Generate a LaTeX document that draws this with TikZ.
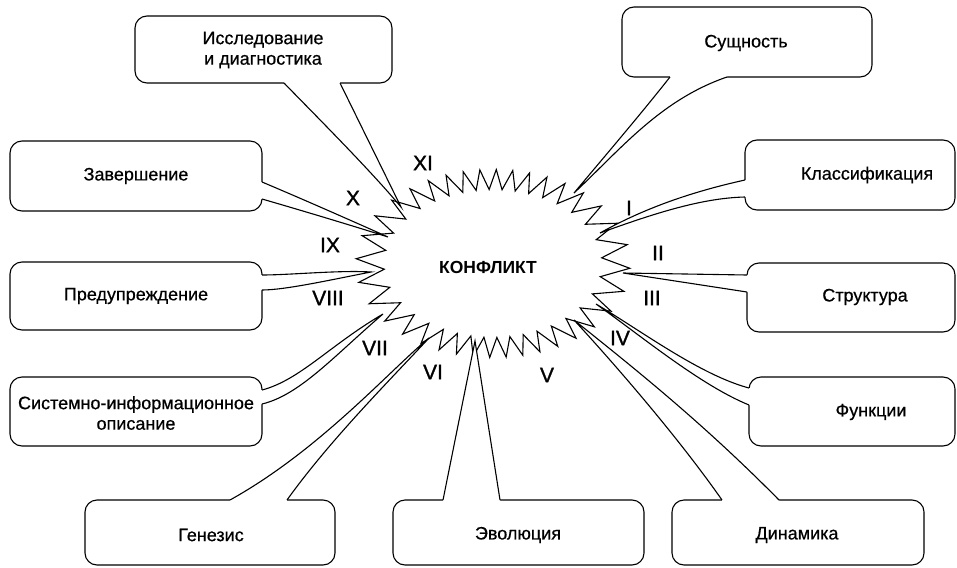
\documentclass[tikz,border=0pt]{standalone}
\usepackage{fontspec}
\setmainfont{Liberation Sans}
\newfontfamily\medsans{Liberation Sans}[FakeBold=0.6]
\newfontfamily\numsans{Liberation Sans}[FakeBold=1.2]
\usetikzlibrary{calc}
\newcommand\mytail[4]{%
  \fill[white] ($(#1)+(#3)$) -- #4 -- ($(#2)+(#3)$) -- cycle;
  \draw[co] #4;}
\begin{document}
\begin{tikzpicture}[x=1pt,y=-1pt,
  co/.style={draw=black,line width=1.1pt,line join=miter},
  boxn/.style={draw=black,line width=1.1pt,rounded corners=12pt,inner sep=0pt,outer sep=0pt},
  lbl/.style={font=\medsans\fontsize{18}{20.5}\selectfont,align=center,inner sep=0pt},
  num/.style={font=\numsans\fontsize{21}{23}\selectfont,inner sep=0pt},
  burst/.style={draw=black,line width=1.1pt,line join=miter}]
\useasboundingbox (0,0) rectangle (957,567);
% starburst
\foreach \i in {0,...,71}{
  \pgfmathsetmacro{\ang}{5*\i+2}
  \ifodd\i \def\A{10.9}\def\B{7.4}\else \def\A{13.7}\def\B{9.4}\fi
  \pgfmathsetmacro{\R}{10*\A*\B/sqrt((\B*cos(\ang))^2+(\A*sin(\ang))^2)}
  \coordinate (p\i) at ({493+\R*cos(\ang)},{263.5+\R*sin(\ang)});
}
\draw[burst] (p0) \foreach \i in {1,...,71}{ -- (p\i)} -- cycle;
\node[font=\bfseries\fontsize{17.5}{20}\selectfont,inner sep=0pt] (konf) at (488,267) {КОНФЛИКТ};

% tips
\coordinate (tIssl) at (401,207);
\coordinate (tZav) at (388,237);
\coordinate (tPred) at (371,272);
\coordinate (tSys) at (383,314);
\coordinate (tGen) at (429,338);
\coordinate (tEvo) at (475,341);
\coordinate (tDin) at (574,320);
\coordinate (tFun) at (596,304);
\coordinate (tStr) at (623,273);
\coordinate (tKla) at (600,233);
\coordinate (tSush) at (574,193);

% boxes
\node[boxn,minimum width=257pt,minimum height=67pt] (issl) at (263.5,49.5) {};
\node[boxn,minimum width=250pt,minimum height=70pt] (sush) at (747,42) {};
\node[boxn,minimum width=252pt,minimum height=70pt] (zav) at (136,176) {};
\node[boxn,minimum width=210pt,minimum height=70pt] (kla) at (850,175) {};
\node[boxn,minimum width=252pt,minimum height=68pt] (pred) at (136,296) {};
\node[boxn,minimum width=208pt,minimum height=69pt] (str) at (851,297.5) {};
\node[boxn,minimum width=252pt,minimum height=69pt] (sys) at (136,411.5) {};
\node[boxn,minimum width=206pt,minimum height=69pt] (fun) at (852,411.5) {};
\node[boxn,minimum width=250pt,minimum height=65pt] (gen) at (210,532.5) {};
\node[boxn,minimum width=251pt,minimum height=65pt] (evo) at (518.5,532.5) {};
\node[boxn,minimum width=252pt,minimum height=65pt] (din) at (798,532.5) {};

% base coordinates
\coordinate (isslA) at (284,83);  \coordinate (isslB) at (340,83);
\coordinate (sushA) at (670,77);  \coordinate (sushB) at (727,77);
\coordinate (zavA) at (262,182);  \coordinate (zavB) at (262,199);
\coordinate (klaA) at (745,180);  \coordinate (klaB) at (745,197);
\coordinate (predA) at (262,275); \coordinate (predB) at (262,290);
\coordinate (strA) at (747,275);  \coordinate (strB) at (747,292);
\coordinate (sysA) at (262,390);  \coordinate (sysB) at (262,404);
\coordinate (funA) at (749,388);  \coordinate (funB) at (749,405);
\coordinate (genA) at (230,500);  \coordinate (genB) at (287,500);
\coordinate (evoA) at (443,500);  \coordinate (evoB) at (500,500);
\coordinate (dinA) at (722,500);  \coordinate (dinB) at (779,500);

% tails
\mytail{isslA}{isslB}{0,-2}{(isslA) .. controls (320,120) and (370,170) .. (tIssl) -- (isslB)}
\mytail{sushA}{sushB}{0,-2}{(sushA) .. controls (640,115) and (610,150) .. (tSush) .. controls (620,150) and (660,100) .. (sushB)}
\mytail{zavA}{zavB}{-2,0}{(zavA) .. controls (300,198) and (350,220) .. (tZav) .. controls (350,225) and (300,210) .. (zavB)}
\mytail{klaA}{klaB}{2,0}{(klaA) .. controls (700,190) and (650,205) .. (tKla) .. controls (650,215) and (700,198) .. (klaB)}
\mytail{predA}{predB}{-2,0}{(predA) .. controls (290,275) and (340,270) .. (tPred) .. controls (330,280) and (285,290) .. (predB)}
\mytail{strA}{strB}{2,0}{(strA) -- (tStr) -- (strB)}
\mytail{sysA}{sysB}{-2,0}{(sysA) .. controls (300,380) and (330,345) .. (tSys) .. controls (335,355) and (300,395) .. (sysB)}
\mytail{funA}{funB}{2,0}{(funA) .. controls (700,375) and (640,330) .. (tFun) .. controls (640,335) and (700,385) .. (funB)}
\mytail{genA}{genB}{0,2}{(genA) .. controls (320,450) and (390,370) .. (tGen) .. controls (390,380) and (330,440) .. (genB)}
\mytail{evoA}{evoB}{0,2}{(evoA) -- (tEvo) -- (evoB)}
\mytail{dinA}{dinB}{0,2}{(dinA) .. controls (680,440) and (620,370) .. (tDin) .. controls (630,365) and (700,420) .. (dinB)}

% texts
\node[lbl] (tx1) at (263,50) {Исследование\\и диагностика};
\node[lbl] (tx2) at (746,43) {Сущность};
\node[lbl] (tx3) at (136,176) {Завершение};
\node[lbl] (tx4) at (867,175) {Классификация};
\node[lbl] (tx5) at (136,296) {Предупреждение};
\node[lbl] (tx6) at (865,297) {Структура};
\node[lbl] (tx7) at (136,413) {Системно-информационное\\описание};
\node[lbl] (tx8) at (871,412) {Функции};
\node[lbl] (tx9) at (211,535) {Генезис};
\node[lbl] (tx10) at (518,535) {Эволюция};
\node[lbl] (tx11) at (797,535) {Динамика};

% numerals
\node[num] (nI) at (629,208) {I};
\node[num] (nII) at (658,253) {II};
\node[num] (nIII) at (652,298) {III};
\node[num] (nIV) at (620,338) {IV};
\node[num] (nV) at (547,375) {V};
\node[num] (nVI) at (433,372) {VI};
\node[num] (nVII) at (375,348) {VII};
\node[num] (nVIII) at (328,298) {VIII};
\node[num] (nIX) at (330,245) {IX};
\node[num] (nX) at (353,198) {X};
\node[num] (nXI) at (423,163) {XI};
\end{tikzpicture}
\end{document}
